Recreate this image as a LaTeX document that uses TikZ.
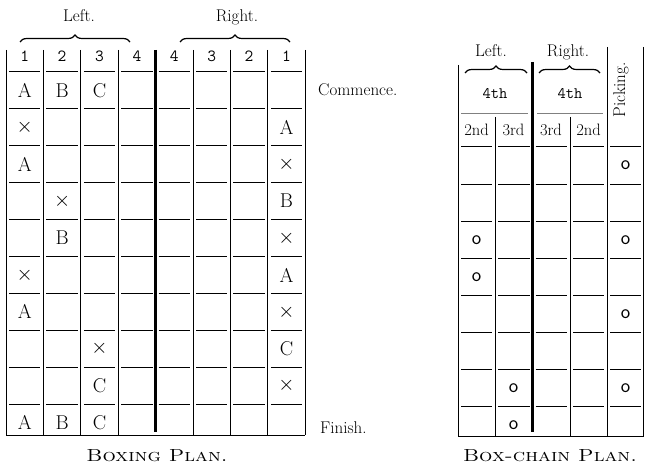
\documentclass[tikz,border=0pt]{standalone}
\usepackage{fontspec}
\usepackage{tikz}
\usetikzlibrary{decorations.pathreplacing}
\newcommand{\crossmk}{$\times$}

\begin{document}
\begin{tikzpicture}[x=1pt, y=-1pt,
  rule/.style={line width=1pt},
  heavy/.style={line width=3.2pt},
  cell/.style={font=\fontsize{20}{20}\selectfont, inner sep=0pt},
  ring/.style={font=\fontsize{20}{20}\selectfont\sffamily, inner sep=0pt},
  hdr/.style={font=\fontsize{17}{17}\selectfont\ttfamily, inner sep=0pt},
  sub/.style={font=\fontsize{16.5}{16.5}\selectfont, inner sep=0pt},
  lbl/.style={font=\fontsize{17}{17}\selectfont, anchor=west, inner sep=0pt},
  plancap/.style={font=\fontsize{17.5}{17.5}\selectfont\scshape, xscale=1.2, inner sep=0pt},
  brc/.style={decorate, decoration={brace, amplitude=7pt}, line width=1.2pt}]
\useasboundingbox (0,0) rectangle (645,468);

% boxing plan
\foreach \i in {0,1,2,3,5,6,7,8}
  \draw[rule] ({6+37.4*\i},50) -- ({6+37.4*\i},435);
\draw[heavy] (155.6,50) -- (155.6,432);
\foreach \k in {0,...,9}
  \foreach \i in {0,...,7}
    \draw[rule] ({6+37.4*\i+3},{72+36.9*\k}) -- ({6+37.4*(\i+1)-3},{72+36.9*\k});
\draw[line width=1.4pt] (6,435.5) -- (305.2,435.5);
\foreach \c/\t in {1/1,2/2,3/3,4/4,5/4,6/3,7/2,8/1}
  \node[hdr] (bh-\c) at ({6+37.4*(\c-0.5)},56) {\t};
\draw[brc] (20,42) -- (130,42);
\draw[brc] (180,42) -- (290,42);
\node[sub, font=\fontsize{17}{17}\selectfont] (bleft) at (79,16) {Left.};
\node[sub, font=\fontsize{17}{17}\selectfont] (bright) at (237,17) {Right.};
\foreach \r/\c/\t in {1/1/A, 1/2/B, 1/3/C, 2/1/\crossmk, 2/8/A, 3/1/A, 3/8/\crossmk,
    4/2/\crossmk, 4/8/B, 5/2/B, 5/8/\crossmk, 6/1/\crossmk, 6/8/A, 7/1/A, 7/8/\crossmk,
    8/3/\crossmk, 8/8/C, 9/3/C, 9/8/\crossmk, 10/1/A, 10/2/B, 10/3/C}
  \node[cell] (b-\r-\c) at ({6+37.4*(\c-0.5)},{72+36.9*(\r-0.5)}) {\t};
\node[lbl] (commence) at (318,90) {Commence.};
\node[lbl] (finish) at (320,428) {Finish.};
\node[plancap] (boxcap) at (157,456) {Boxing Plan.};

% box-chain plan
\draw[rule] (458,65) -- (458,436);
\draw[rule] (495,117) -- (495,436);
\draw[heavy] (532.5,62) -- (532.5,432);
\draw[rule] (570,117) -- (570,436);
\draw[rule] (607,47) -- (607,436);
\draw[rule] (643.5,47) -- (643.5,436);
\draw[line width=0.6pt, gray] (461,113) -- (528,113);
\draw[line width=0.6pt, gray] (537,113) -- (603,113);
\foreach \k in {0,...,7}
  \foreach \a/\b in {458/495,495/532.5,532.5/570,570/607,607/643.5}
    \draw[rule] (\a+3,{147+37.1*\k}) -- (\b-3,{147+37.1*\k});
\draw[line width=1.4pt] (458,436.5) -- (644,436.5);
\draw[brc] (465,73) -- (527,73);
\draw[brc] (539,73) -- (600,73);
\node[sub, font=\fontsize{17}{17}\selectfont] (cleft) at (491,51) {Left.};
\node[sub, font=\fontsize{17}{17}\selectfont] (cright) at (568,52) {Right.};
\node[hdr, font=\fontsize{16}{16}\selectfont\ttfamily] (cl4) at (495,94) {4th};
\node[hdr, font=\fontsize{16}{16}\selectfont\ttfamily] (cr4) at (570,94) {4th};
\foreach \x/\t in {476.5/2nd, 513.5/3rd, 551/3rd, 588.5/2nd}
  \node[sub] (cs-\x) at (\x,130) {\t};
\node[sub, font=\fontsize{17}{17}\selectfont, rotate=90] (picking) at (621,90) {Picking.};
\foreach \r/\x in {1/625.5, 3/476.5, 3/625.5, 4/476.5, 5/625.5, 7/513.5, 7/625.5, 8/513.5}
  \node[ring] (o-\r-\x) at (\x,{147+37.1*(\r-0.5)}) {o};
\node[plancap] (chaincap) at (550,456) {Box-chain Plan.};
\end{tikzpicture}
\end{document}
